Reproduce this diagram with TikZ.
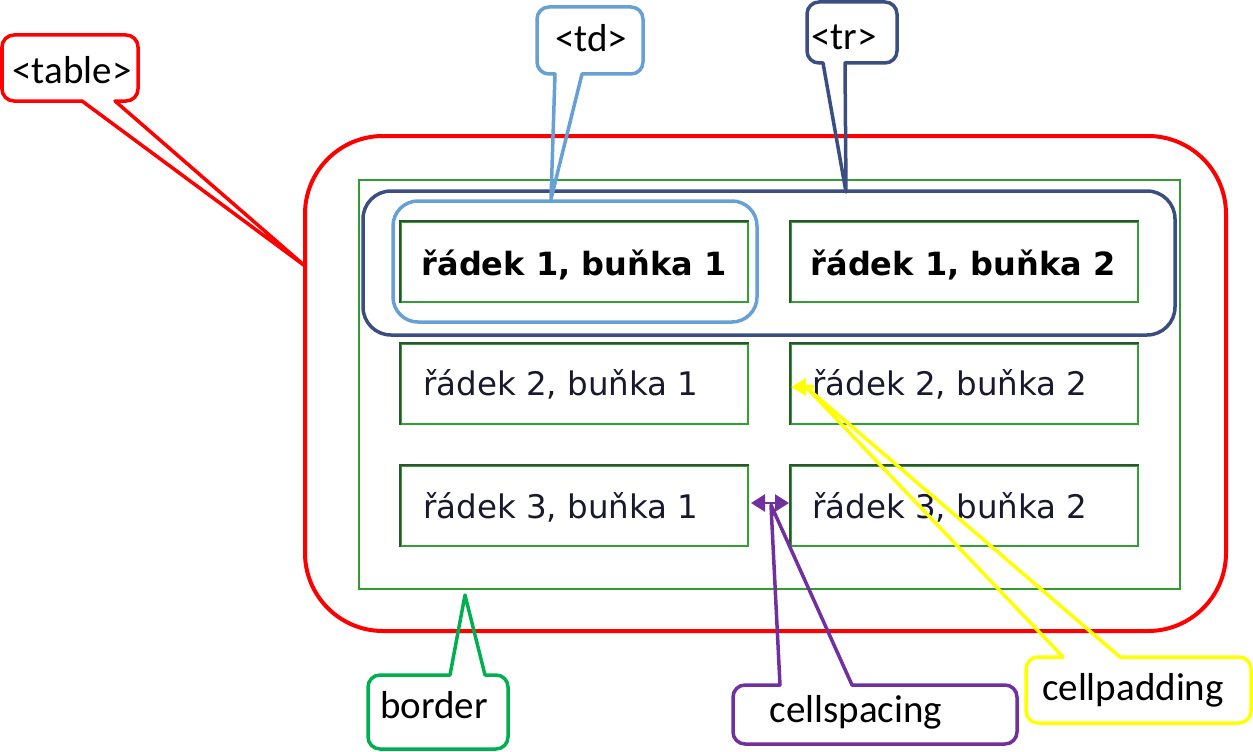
\documentclass[tikz,border=0pt]{standalone}
\usepackage{fontspec}
\setmainfont{Carlito}
\newfontfamily\cellfont{DejaVu Sans}
\usetikzlibrary{arrows.meta}
\definecolor{tblred}{RGB}{255,0,0}
\definecolor{outgreen}{RGB}{52,155,52}
\definecolor{celldark}{RGB}{45,85,45}
\definecolor{celllight}{RGB}{50,160,50}
\definecolor{trnavy}{RGB}{58,78,130}
\definecolor{tdblue}{RGB}{102,160,212}
\definecolor{bordgreen}{RGB}{0,176,80}
\definecolor{spacepurple}{RGB}{112,48,160}
\definecolor{padyellow}{RGB}{255,255,0}
\definecolor{celltxt}{RGB}{25,25,45}
\tikzset{
  calloutline/.style={line width=3.5pt, line join=round},
  calltext/.style={font=\fontsize{39}{41}\selectfont, inner sep=0pt, anchor=base},
  cellbox/.style={draw=celllight, line width=2pt, minimum width=347pt, minimum height=80pt, inner sep=0pt},
  celltext/.style={font=\cellfont\fontsize{32.5}{34}\selectfont, text=celltxt, inner sep=0pt},
  celltextb/.style={font=\cellfont\bfseries\fontsize{32}{34}\selectfont, text=black, inner sep=0pt, anchor=base}
}
\begin{document}
\begin{tikzpicture}[x=1pt,y=-1pt]
\useasboundingbox (0,0) rectangle (1253,752);

% outer table
\draw[tblred, line width=4pt, rounded corners=78pt] (305,136) rectangle (1226,631);
\draw[outgreen, line width=2.2pt] (359,180) rectangle (1180,589);

% cells
\node[cellbox] (c11) at (574.5,262) {};
\node[cellbox] (c12) at (964,262) {};
\node[cellbox] (c21) at (574.5,384) {};
\node[cellbox] (c22) at (964,384) {};
\node[cellbox] (c31) at (574.5,506) {};
\node[cellbox] (c32) at (964,506) {};
\foreach \c in {c11,c12,c21,c22,c31,c32}{
  \draw[celldark, line width=2pt] (\c.south west) -- (\c.north west) -- (\c.north east);
}
\node[celltextb] (t11) at (574,275) {řádek 1, buňka 1};
\node[celltextb] (t12) at (963,275) {řádek 1, buňka 2};
\node[celltext, anchor=base west] (t21) at (423,395) {řádek 2, buňka 1};
\node[celltext, anchor=base west] (t22) at (812,395) {řádek 2, buňka 2};
\node[celltext, anchor=base west] (t31) at (423,518) {řádek 3, buňka 1};
\node[celltext, anchor=base west] (t32) at (812,518) {řádek 3, buňka 2};

% tr and td frames
\draw[trnavy, line width=3.5pt, rounded corners=28pt] (363,191) rectangle (1175,335);
\draw[tdblue, line width=3.5pt, rounded corners=25pt] (393,201) rectangle (757,322);

% <table> callout
\coordinate (tabletip) at (305,266);
\draw[tblred, calloutline] (tabletip) -- (82,101) [rounded corners=12pt] -- (2,101) -- (2,35) -- (138,35) -- (138,101) [sharp corners] -- (115,101) -- cycle;
\node[calltext] (tablelbl) at (72,83) {<table>};

% <td> callout
\coordinate (tdtip) at (551,199);
\draw[tdblue, calloutline] (tdtip) -- (555,74) [rounded corners=12pt] -- (537,74) -- (537,7) -- (643,7) -- (643,74) [sharp corners] -- (582,74) -- cycle;
\node[calltext] (tdlbl) at (591,52) {<td>};

% <tr> callout
\coordinate (trtip) at (846,192);
\draw[trnavy, calloutline] (trtip) -- (823,63) [rounded corners=12pt] -- (807,63) -- (807,2) -- (897,2) -- (897,63) [sharp corners] -- (845,63) -- cycle;
\node[calltext] (trlbl) at (844,50) {<tr>};

% border callout
\coordinate (bordertip) at (465,595);
\draw[bordgreen, calloutline] (bordertip) -- (450,675) [rounded corners=12pt] -- (368,675) -- (368,749) -- (508,749) -- (508,675) [sharp corners] -- (485,675) -- cycle;
\node[calltext] (borderlbl) at (434,718) {border};

% cellspacing callout
\coordinate (spaceL) at (751,503);
\coordinate (spaceR) at (789,503);
\draw[spacepurple, line width=2.5pt, {Triangle[length=14pt,width=17pt]}-{Triangle[length=14pt,width=17pt]}] (spaceL) -- (spaceR);
\coordinate (spacetip) at (771,505);
\draw[spacepurple, calloutline] (spacetip) -- (780,685) [rounded corners=12pt] -- (733,685) -- (733,744) -- (1017,744) -- (1017,685) [sharp corners] -- (852,685) -- cycle;
\node[calltext] (spacelbl) at (856,722) {cellspacing};

% cellpadding callout
\coordinate (padA) at (814,387);
\coordinate (padB) at (791,387);
\draw[padyellow, line width=3.5pt, -{Triangle[length=15pt,width=17pt]}] (padA) -- (padB);
\coordinate (padtip) at (807,388);
\draw[padyellow, calloutline] (padtip) -- (1063,657) [rounded corners=12pt] -- (1026,657) -- (1026,723) -- (1251,723) -- (1251,657) [sharp corners] -- (1120,657) -- cycle;
\node[calltext] (padlbl) at (1133,700) {cellpadding};
\end{tikzpicture}
\end{document}
